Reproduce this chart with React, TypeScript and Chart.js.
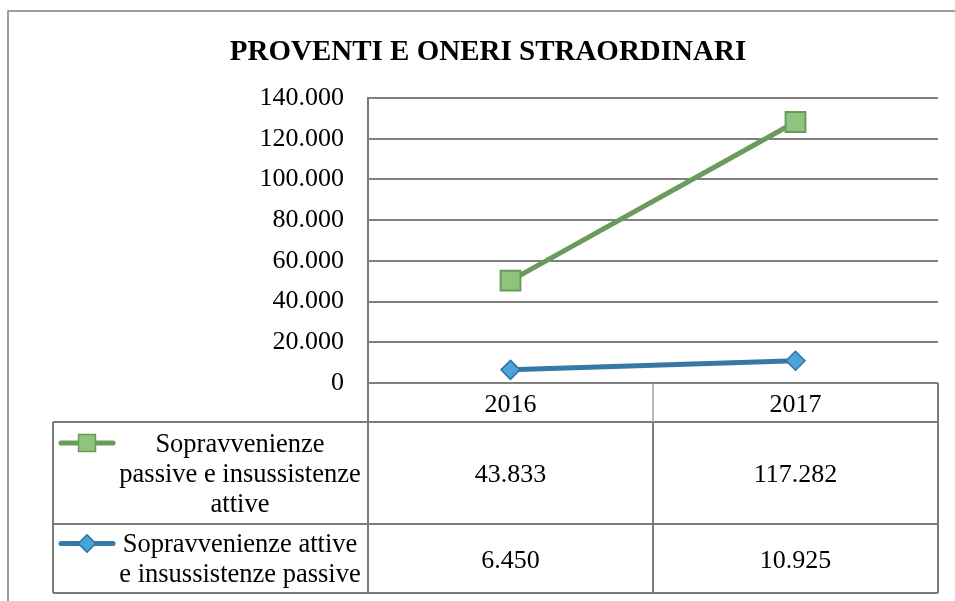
import React, { useEffect, useRef } from "react";
import { Chart, registerables } from "chart.js";

Chart.register(...registerables);

// ---- data ----
const categories = ["2016", "2017"];
const passiveValues = [43833, 117282]; // Sopravvenienze passive e insussistenze attive
const attiveValues = [6450, 10925]; // Sopravvenienze attive e insussistenze passive
const passiveLabelLines = ["Sopravvenienze", "passive e insussistenze", "attive"];
const attiveLabelLines = ["Sopravvenienze attive", "e insussistenze passive"];
const chartTitle = "PROVENTI E ONERI STRAORDINARI";
const yMin = 0;
const yMax = 140000;
const yStep = 20000;

const SERIF = '"Liberation Serif", "Times New Roman", serif';
const GREEN_LINE = "#6a9b5c";
const GREEN_FILL = "#8ec47e";
const GREEN_EDGE = "#6a9a5a";
const BLUE_LINE = "#3679a4";
const BLUE_FILL = "#4aa4da";
const BLUE_EDGE = "#2f72a0";
const GRID = "#808080";

function fmt(n: number): string {
  return String(n).replace(/\B(?=(\d{3})+(?!\d))/g, ".");
}

const tablePlugin = {
  id: "dataTable",
  afterDraw(chart: any) {
    const ctx: CanvasRenderingContext2D = chart.ctx;
    const { left, right, bottom } = chart.chartArea;
    const xs = chart.scales.x;
    const colX = categories.map((_, i) => xs.getPixelForValue(i));
    const bounds: number[] = [];
    for (let i = 0; i < colX.length - 1; i++) bounds.push((colX[i] + colX[i + 1]) / 2);

    const tableLeft = 53;
    const headerBottom = bottom + 39;
    const row1Bottom = headerBottom + 102;
    const row2Bottom = row1Bottom + 69;

    ctx.save();
    // outer frame
    ctx.strokeStyle = "#7f7f7f";
    ctx.lineWidth = 1.5;
    ctx.beginPath();
    ctx.moveTo(8, chart.height + 2);
    ctx.lineTo(8, 11);
    ctx.lineTo(chart.width + 2, 11);
    ctx.stroke();

    // title
    ctx.fillStyle = "#000";
    ctx.font = `bold 29px ${SERIF}`;
    ctx.textAlign = "center";
    ctx.textBaseline = "alphabetic";
    ctx.fillText(chartTitle, 488, 59.5);

    // table lines
    ctx.strokeStyle = "#7a7a7a";
    ctx.lineWidth = 2;
    ctx.beginPath();
    [headerBottom, row1Bottom, row2Bottom].forEach((y) => {
      ctx.moveTo(tableLeft, y);
      ctx.lineTo(right, y);
    });
    ctx.moveTo(tableLeft, headerBottom);
    ctx.lineTo(tableLeft, row2Bottom);
    ctx.moveTo(left, bottom);
    ctx.lineTo(left, row2Bottom);
    ctx.moveTo(right, bottom);
    ctx.lineTo(right, row2Bottom);
    bounds.forEach((bx) => {
      ctx.moveTo(bx, headerBottom);
      ctx.lineTo(bx, row2Bottom);
    });
    ctx.stroke();
    ctx.strokeStyle = "#a0a0a0";
    ctx.lineWidth = 1.5;
    ctx.beginPath();
    bounds.forEach((bx) => {
      ctx.moveTo(bx, bottom);
      ctx.lineTo(bx, headerBottom);
    });
    ctx.stroke();

    // header labels
    ctx.fillStyle = "#000";
    ctx.font = `26px ${SERIF}`;
    ctx.textAlign = "center";
    const hc = (bottom + headerBottom) / 2;
    categories.forEach((c, i) => ctx.fillText(c, colX[i], hc + 9.5));

    const rows = [
      { top: headerBottom, bot: row1Bottom, lines: passiveLabelLines, vals: passiveValues, kind: "rect" },
      { top: row1Bottom, bot: row2Bottom, lines: attiveLabelLines, vals: attiveValues, kind: "diamond" },
    ];
    const lh = 30;
    rows.forEach((r) => {
      const c = (r.top + r.bot) / 2;
      const n = r.lines.length;
      ctx.font = `26.5px ${SERIF}`;
      r.lines.forEach((t, i) => {
        ctx.fillText(t, 240, c + 8.8 + (i - (n - 1) / 2) * lh);
      });
      ctx.font = `26px ${SERIF}`;
      r.vals.forEach((v, i) => ctx.fillText(fmt(v), colX[i], c + 9.2));
      // legend key
      const ky = c + (0 - (n - 1) / 2) * lh;
      ctx.lineCap = "round";
      ctx.lineWidth = 5;
      ctx.strokeStyle = r.kind === "rect" ? GREEN_LINE : BLUE_LINE;
      ctx.beginPath();
      ctx.moveTo(61, ky);
      ctx.lineTo(113, ky);
      ctx.stroke();
      ctx.lineCap = "butt";
      ctx.lineWidth = 1.5;
      if (r.kind === "rect") {
        ctx.fillStyle = GREEN_FILL;
        ctx.strokeStyle = GREEN_EDGE;
        ctx.beginPath();
        ctx.rect(87 - 8.5, ky - 8.5, 17, 17);
        ctx.fill();
        ctx.stroke();
      } else {
        ctx.fillStyle = BLUE_FILL;
        ctx.strokeStyle = BLUE_EDGE;
        ctx.beginPath();
        ctx.moveTo(87, ky - 8.7);
        ctx.lineTo(95.7, ky);
        ctx.lineTo(87, ky + 8.7);
        ctx.lineTo(78.3, ky);
        ctx.closePath();
        ctx.fill();
        ctx.stroke();
      }
      ctx.fillStyle = "#000";
    });
    ctx.restore();
  },
};

export default function App() {
  const ref = useRef<HTMLCanvasElement>(null);
  useEffect(() => {
    if (!ref.current) return;
    const chart = new Chart(ref.current, {
      type: "line",
      data: {
        labels: categories,
        datasets: [
          {
            label: attiveLabelLines.join(" "),
            data: attiveValues,
            borderColor: BLUE_LINE,
            borderWidth: 5,
            pointStyle: "rectRot",
            pointRadius: 9.5,
            pointBackgroundColor: BLUE_FILL,
            pointBorderColor: BLUE_EDGE,
            pointBorderWidth: 1.5,
            tension: 0,
            fill: false,
          },
          {
            label: passiveLabelLines.join(" "),
            data: passiveValues,
            borderColor: GREEN_LINE,
            borderWidth: 5,
            pointStyle: "rect",
            pointRadius: 14,
            pointBackgroundColor: GREEN_FILL,
            pointBorderColor: GREEN_EDGE,
            pointBorderWidth: 2,
            tension: 0,
            fill: false,
          },
        ],
      },
      options: {
        responsive: false,
        animation: false,
        devicePixelRatio: 1,
        layout: { padding: { left: 0, top: 98, right: 17, bottom: 218 } },
        plugins: { legend: { display: false }, title: { display: false }, tooltip: { enabled: false } },
        scales: {
          x: { display: false, offset: true },
          y: {
            stacked: true,
            min: yMin,
            max: yMax,
            afterFit: (s: any) => {
              s.width = 368;
            },
            ticks: {
              stepSize: yStep,
              padding: 24,
              color: "#000",
              font: { family: SERIF, size: 26 },
              callback: (v: any) => fmt(Number(v)),
            },
            grid: { color: GRID, lineWidth: 2, drawTicks: false },
            border: { display: true, color: "#7a7a7a", width: 2 },
          },
        },
      },
      plugins: [tablePlugin],
    });
    return () => chart.destroy();
  }, []);
  return (
    <div style={{ position: "absolute", left: 0, top: 0, width: 955, height: 601, background: "#fff" }}>
      <canvas ref={ref} width={955} height={601} style={{ display: "block" }} />
    </div>
  );
}
